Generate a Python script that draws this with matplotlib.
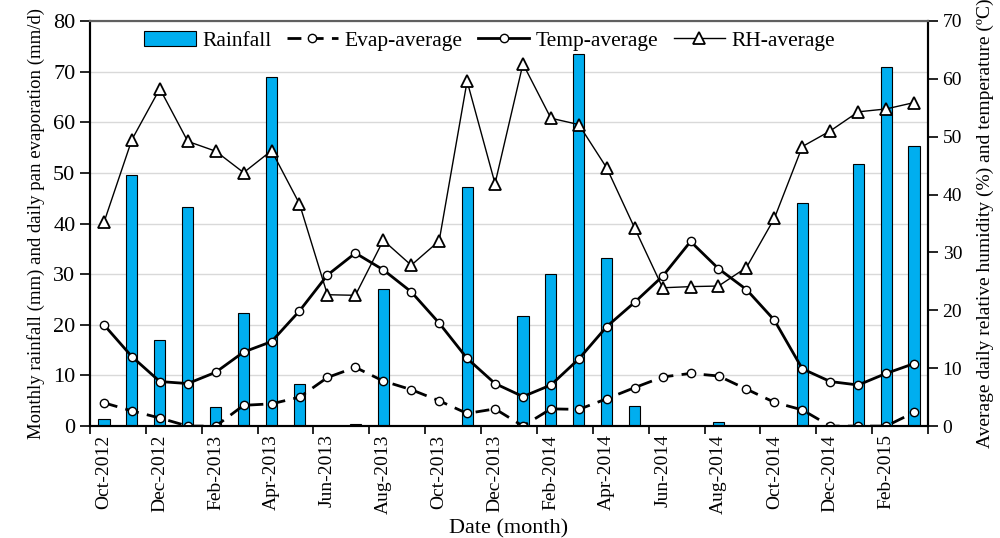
import matplotlib.pyplot as plt
from matplotlib.patches import Patch
from matplotlib.lines import Line2D
import numpy as np

plt.rcParams['font.family'] = ['Liberation Serif', 'DejaVu Serif']

months = ['Oct-2012', 'Nov-2012', 'Dec-2012', 'Jan-2013', 'Feb-2013', 'Mar-2013',
          'Apr-2013', 'May-2013', 'Jun-2013', 'Jul-2013', 'Aug-2013', 'Sep-2013',
          'Oct-2013', 'Nov-2013', 'Dec-2013', 'Jan-2014', 'Feb-2014', 'Mar-2014',
          'Apr-2014', 'May-2014', 'Jun-2014', 'Jul-2014', 'Aug-2014', 'Sep-2014',
          'Oct-2014', 'Nov-2014', 'Dec-2014', 'Jan-2015', 'Feb-2015', 'Mar-2015']

# monthly rainfall (mm), left axis
rainfall = [1.4, 49.6, 17.1, 43.3, 3.8, 22.4, 69.0, 8.3, 0.0, 0.4, 27.1, 0.1,
            0.1, 47.2, 0.0, 21.8, 30.0, 73.5, 33.1, 4.0, 0.0, 0.1, 0.8, 0.0,
            0.1, 44.0, 0.0, 51.7, 71.0, 55.3]
# daily pan evaporation (mm/d), left axis
evap = [4.6, 3.0, 1.6, 0.0, 0.0, 4.1, 4.4, 5.7, 9.6, 11.6, 8.9, 7.2,
        5.0, 2.5, 3.4, 0.0, 3.4, 3.3, 5.4, 7.6, 9.7, 10.4, 9.9, 7.3,
        4.7, 3.2, 0.0, 0.0, 0.0, 2.7]
# temperature (C), right axis
temp = [17.5, 12.0, 7.7, 7.35, 9.3, 12.8, 14.6, 19.9, 26.1, 29.9, 27.0, 23.2,
        17.8, 11.7, 7.35, 5.1, 7.1, 11.6, 17.2, 21.4, 25.9, 31.9, 27.2, 23.6,
        18.3, 9.9, 7.7, 7.1, 9.1, 10.8]
# relative humidity (%), right axis
rh = [35.2, 49.5, 58.3, 49.2, 47.5, 43.8, 47.6, 38.4, 22.7, 22.6, 32.1, 27.8,
      32.0, 59.6, 41.9, 62.6, 53.2, 52.1, 44.6, 34.2, 23.9, 24.1, 24.2, 27.4,
      35.9, 48.3, 51.0, 54.3, 54.8, 55.9]

x = np.arange(len(months))

fig = plt.figure(figsize=(10, 5.38), dpi=100)
ax = fig.add_axes([0.09, 0.208, 0.838, 0.753])
ax2 = ax.twinx()

ax.bar(x, rainfall, width=0.4, color='#00AEEF', edgecolor='black', linewidth=0.8, zorder=2)
ax.plot(x, evap, color='black', lw=2, ls=(0, (5, 3)), marker='o', ms=6,
        mfc='white', mec='black', mew=1, zorder=3)
ax2.plot(x, temp, color='black', lw=2, marker='o', ms=6,
         mfc='white', mec='black', mew=1, zorder=3)
ax2.plot(x, rh, color='black', lw=1, marker='^', ms=8,
         mfc='white', mec='black', mew=1.3, zorder=3)

ax.set_xlim(-0.5, len(months) - 0.5)
ax.set_ylim(0, 80)
ax2.set_ylim(0, 70)
ax.set_yticks(range(0, 81, 10))
ax2.set_yticks(range(0, 71, 10))
ax.yaxis.grid(True, color='#d9d9d9', lw=1, zorder=0)
ax.set_axisbelow(True)

ax.set_xticks(x[::2])
ax.set_xticklabels(months[::2], rotation=90, fontsize=14)
ax.set_xticks(np.arange(-0.5, len(months), 2), minor=True)
ax.tick_params(axis='x', which='major', length=0, pad=6)
ax.tick_params(axis='x', which='minor', length=6, width=1.2, direction='out')
ax.tick_params(axis='y', labelsize=16, length=7, width=1.2, direction='out')
ax2.tick_params(axis='y', labelsize=14, length=7, width=1.2, direction='out')

for a in (ax, ax2):
    a.spines['left'].set_linewidth(1.5)
    a.spines['right'].set_linewidth(1.5)
    a.spines['bottom'].set_linewidth(1.5)
    a.spines['top'].set_color('#606060')
    a.spines['top'].set_linewidth(1.5)

ax.set_ylabel('Monthly rainfall (mm) and daily pan evaporation (mm/d)', fontsize=13.5, labelpad=6)
ax2.set_ylabel('Average daily relative humidity (%) and temperature (\u00baC)', fontsize=14)
ax2.yaxis.set_label_coords(1.058, 0.5)
ax.set_xlabel('Date (month)', fontsize=16, labelpad=4)

handles = [
    Patch(facecolor='#00AEEF', edgecolor='black', linewidth=0.8),
    Line2D([], [], color='black', lw=2, ls=(0, (5, 3)), marker='o', ms=6, mfc='white', mec='black'),
    Line2D([], [], color='black', lw=2, marker='o', ms=6, mfc='white', mec='black'),
    Line2D([], [], color='black', lw=1, marker='^', ms=8, mfc='white', mec='black', mew=1.3),
]
labels = ['Rainfall', 'Evap-average', 'Temp-average', 'RH-average']
ax2.legend(handles, labels, loc='upper center', bbox_to_anchor=(0.477, 1.0), ncol=4,
           frameon=False, fontsize=15.5, handlelength=2.4, handletextpad=0.3,
           columnspacing=0.7, borderaxespad=0.05)

fig.savefig('out.png', dpi=100)
